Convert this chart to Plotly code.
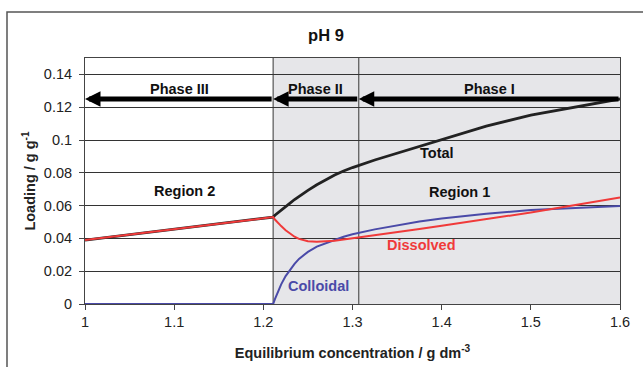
import plotly.graph_objects as go

# ---- data ----
conc = [1.0, 1.211, 1.213, 1.216, 1.22, 1.225, 1.23, 1.235, 1.24, 1.25, 1.26, 1.27, 1.28, 1.29, 1.30,
        1.325, 1.35, 1.375, 1.40, 1.45, 1.50, 1.55, 1.60]
total = [0.039, 0.053, 0.0541, 0.0555, 0.0572, 0.0593, 0.0615, 0.0637, 0.0657, 0.0693, 0.0727, 0.0758, 0.0786, 0.0811, 0.0832,
         0.0878, 0.092, 0.0962, 0.1003, 0.1085, 0.1152, 0.1203, 0.125]
dissolved = [0.039, 0.053, 0.0515, 0.0497, 0.0475, 0.045, 0.0428, 0.041, 0.0397, 0.0383, 0.0379, 0.0381, 0.0386, 0.0393, 0.0400,
             0.042, 0.0437, 0.0457, 0.0477, 0.0517, 0.0558, 0.0603, 0.065]
colloidal = [0.0, 0.0, 0.003, 0.007, 0.012, 0.017, 0.021, 0.0245, 0.0275, 0.0318, 0.035, 0.0372, 0.039, 0.041, 0.0425,
             0.0455, 0.048, 0.0503, 0.0522, 0.055, 0.0573, 0.0587, 0.0597]

phase_bounds = [1.0, 1.211, 1.307, 1.6]
phase_names = ["Phase III", "Phase II", "Phase I"]
arrow_level = 0.125
x_ticks = [1.0, 1.1, 1.2, 1.3, 1.4, 1.5, 1.6]
x_tick_text = ["1", "1.1", "1.2", "1.3", "1.4", "1.5", "1.6"]
y_ticks = [0, 0.02, 0.04, 0.06, 0.08, 0.1, 0.12, 0.14]
y_tick_text = ["0", "0.02", "0.04", "0.06", "0.08", "0.1", "0.12", "0.14"]

FONT = "Liberation Sans, Arial, sans-serif"
BLACK = "#222222"
RED = "#f03a3a"
BLUE = "#4a4aa8"
FS = 14.5

fig = go.Figure()
fig.add_trace(go.Scatter(x=conc, y=total, mode="lines", line=dict(color=BLACK, width=2.8), name="Total", cliponaxis=False))
fig.add_trace(go.Scatter(x=conc, y=colloidal, mode="lines", line=dict(color=BLUE, width=2), name="Colloidal", cliponaxis=False))
fig.add_trace(go.Scatter(x=conc, y=dissolved, mode="lines", line=dict(color=RED, width=2), name="Dissolved", cliponaxis=False))

shapes = []
shapes.append(dict(type="rect", xref="x", yref="paper", x0=phase_bounds[1], x1=phase_bounds[3], y0=0, y1=1,
                   fillcolor="#e6e6e9", line=dict(width=0), layer="below"))
for b in phase_bounds[1:3]:
    shapes.append(dict(type="line", xref="x", yref="paper", x0=b, x1=b, y0=0, y1=1,
                       line=dict(color="#555555", width=1.2), layer="below"))
shapes.append(dict(type="rect", xref="paper", yref="paper", x0=-0.1458, x1=1.2, y0=-0.4, y1=1.187,
                   line=dict(color="#555555", width=1.5), fillcolor="rgba(0,0,0,0)"))

annotations = []
for i, name in enumerate(phase_names):
    x0, x1 = phase_bounds[i], phase_bounds[i + 1]
    annotations.append(dict(x=x0, y=arrow_level, ax=x1, ay=arrow_level, xref="x", yref="y", axref="x", ayref="y",
                            showarrow=True, arrowhead=2, arrowsize=0.62, arrowwidth=5, arrowcolor="#000000", text=""))
    annotations.append(dict(x=(x0 + x1) / 2, y=arrow_level, text="<b>%s</b>" % name, showarrow=False,
                            yshift=10, font=dict(family=FONT, size=FS, color="#111111")))

labels = [("Region 2", 1.112, 0.0688, "#111111"), ("Region 1", 1.42, 0.068, "#111111"),
          ("Total", 1.395, 0.092, "#111111"), ("Dissolved", 1.377, 0.0362, RED), ("Colloidal", 1.262, 0.0112, BLUE)]
for t, x, y, c in labels:
    annotations.append(dict(x=x, y=y, text="<b>%s</b>" % t, showarrow=False, font=dict(family=FONT, size=FS, color=c)))

fig.update_layout(
    width=643, height=367,
    margin=dict(l=85, r=23, t=58, b=63),
    paper_bgcolor="white", plot_bgcolor="white",
    showlegend=False,
    title=dict(text="<b>pH 9</b>", x=0.507, xanchor="center", y=0.905, yanchor="middle",
               font=dict(family=FONT, size=16.5, color="#111111")),
    shapes=shapes, annotations=annotations,
    font=dict(family=FONT, size=FS, color="#222222"),
)
fig.update_xaxes(range=[1.0, 1.6], tickvals=x_ticks, ticktext=x_tick_text, showgrid=False, zeroline=False,
                 ticks="outside", ticklen=5, tickcolor="#444444", showline=True, linecolor="#444444", mirror=True,
                 layer="below traces", automargin=False,
                 title=dict(text="<b>Equilibrium concentration / g dm<sup>-3</sup></b>", font=dict(family=FONT, size=FS), standoff=18),
                 tickfont=dict(family=FONT, size=FS, color="#222222"))
fig.update_yaxes(range=[0, 0.15], tickvals=y_ticks, ticktext=y_tick_text, showgrid=True, gridcolor="#333333", gridwidth=1,
                 zeroline=False, ticks="outside", ticklen=5, tickcolor="#444444", showline=True, linecolor="#444444", mirror=True,
                 layer="below traces", automargin=False, ticklabelstandoff=4,
                 title=dict(text="<b>Loading / g g<sup>-1</sup></b>", font=dict(family=FONT, size=FS), standoff=4),
                 tickfont=dict(family=FONT, size=FS, color="#222222"))

fig.write_html("out.html")
